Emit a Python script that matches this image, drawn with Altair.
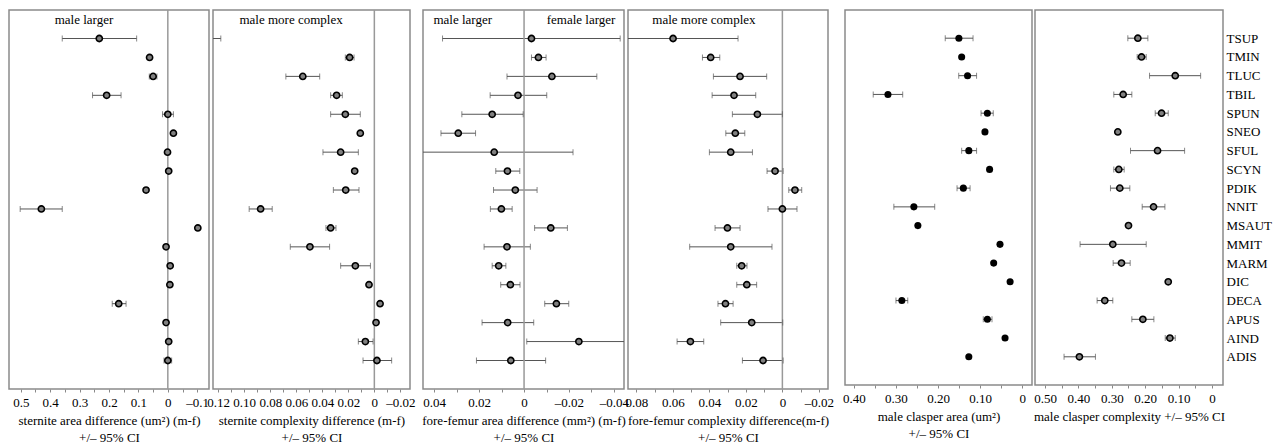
import altair as alt
import pandas as pd

species = ["TSUP", "TMIN", "TLUC", "TBIL", "SPUN", "SNEO", "SFUL", "SCYN", "PDIK",
           "NNIT", "MSAUT", "MMIT", "MARM", "DIC", "DECA", "APUS", "AIND", "ADIS"]

# Panel 1: sternite area difference
p1_est = [0.233, 0.062, 0.050, 0.208, 0.000, -0.019, 0.001, -0.003, 0.074,
          0.430, -0.102, 0.006, -0.008, -0.007, 0.167, 0.006, -0.003, 0.000]
p1_lo = [0.359, 0.066, 0.063, 0.256, 0.018, None, None, None, None,
         0.502, None, None, None, None, 0.189, None, None, 0.013]
p1_hi = [0.106, 0.058, 0.037, 0.159, -0.019, None, None, None, None,
         0.359, None, None, None, None, 0.142, None, None, -0.013]

# Panel 2: sternite complexity difference
p2_est = [0.135, 0.019, 0.055, 0.029, 0.0223, 0.0108, 0.0259, 0.0151, 0.022,
          0.0874, 0.0336, 0.0495, 0.0146, 0.0041, -0.0044, -0.0013, 0.0069, -0.002]
p2_lo = [0.150, 0.0223, 0.068, 0.0336, 0.0336, None, 0.0395, None, 0.0315,
         0.0962, 0.0372, 0.0646, 0.0259, None, None, None, 0.0123, 0.0087]
p2_hi = [0.118, 0.0156, 0.042, 0.0246, 0.0108, None, 0.0123, None, 0.0118,
         0.0785, 0.0295, 0.0344, 0.003, None, None, None, 0.001, -0.0133]

# Panel 3: fore-femur area difference
p3_est = [-0.0033, -0.0064, -0.0124, 0.0027, 0.0142, 0.0293, 0.0133, 0.0074, 0.0039,
          0.0101, -0.0119, 0.0076, 0.0113, 0.0061, -0.0144, 0.0073, -0.0244, 0.0059]
p3_lo = [0.0363, -0.0033, 0.0076, 0.0151, 0.0277, 0.0370, 0.0480, 0.0126, 0.0136,
         0.0150, -0.0047, 0.0178, 0.0142, 0.0104, -0.0092, 0.0187, -0.0012, 0.0212]
p3_hi = [-0.0428, -0.0098, -0.0324, -0.0101, 0.0004, 0.0216, -0.0218, 0.0019, -0.0058,
         0.0053, -0.0193, -0.0028, 0.0081, 0.0018, -0.0199, -0.0043, -0.0480, -0.0096]

# Panel 4: fore-femur complexity difference
p4_est = [0.0599, 0.0393, 0.0232, 0.0265, 0.0137, 0.0258, 0.0283, 0.0040, -0.0069,
          0.0000, 0.0301, 0.0283, 0.0223, 0.0195, 0.0312, 0.0168, 0.0504, 0.0106]
p4_lo = [0.0900, 0.0438, 0.0378, 0.0385, 0.0274, 0.0310, 0.0400, 0.0084, -0.0035,
         0.0079, 0.0369, 0.0508, 0.0250, 0.0250, 0.0353, 0.0338, 0.0577, 0.0219]
p4_hi = [0.0243, 0.0343, 0.0086, 0.0146, 0.0000, 0.0206, 0.0164, -0.0004, -0.0106,
         -0.0080, 0.0232, 0.0057, 0.0194, 0.0141, 0.0270, -0.0002, 0.0431, -0.0004]

# Panel 5: male clasper area
p5_est = [0.1506, 0.144, 0.130, 0.319, 0.083, 0.0887, 0.127, 0.0777, 0.140,
          0.2575, 0.248, 0.053, 0.068, 0.029, 0.286, 0.083, 0.041, 0.127]
p5_lo = [0.183, None, 0.151, 0.354, 0.098, None, 0.144, None, 0.155,
         0.305, None, None, None, None, 0.300, 0.0927, None, None]
p5_hi = [0.117, None, 0.1086, 0.284, 0.069, None, 0.1086, None, 0.124,
         0.208, None, None, None, None, 0.272, 0.072, None, None]

# Panel 6: male clasper complexity
p6_est = [0.222, 0.211, 0.110, 0.266, 0.151, 0.282, 0.163, 0.279, 0.276,
          0.175, 0.250, 0.297, 0.271, 0.131, 0.321, 0.207, 0.126, 0.397]
p6_lo = [0.252, 0.224, 0.187, 0.294, 0.170, None, 0.244, 0.294, 0.304,
         0.209, None, 0.395, 0.296, None, 0.344, 0.240, 0.140, 0.443]
p6_hi = [0.192, 0.197, 0.034, 0.240, 0.131, None, 0.082, 0.263, 0.246,
         0.141, None, 0.197, 0.245, None, 0.297, 0.174, 0.110, 0.349]

FONT = "Liberation Serif"
GRAY = "#555555"
FRAME = "#8a8a8a"
FONT_EXPR = {"expr": "'Liberation Serif'"}
SIZE_EXPR = {"expr": "13"}


def panel(est, lo, hi, domain, ticks, fmt, title, width, height, annots,
          zero_line=True, solid=False, yaxis=False):
    df = pd.DataFrame({"species": species, "est": est, "lo": lo, "hi": hi})
    xscale = alt.Scale(domain=domain, reverse=True, nice=False, zero=False)
    labelexpr = (
        "datum.value == 0 ? '0' : (indexof([" + ",".join(str(t) for t in ticks[::2]) +
        "], datum.value) >= 0 ? replace(format(datum.value, '" + fmt + "'), /[-\u2212]/, '\u2013') : '')"
    )
    xaxis = alt.Axis(values=ticks, labelExpr=labelexpr, title=title, labelOverlap=False,
                     labelSeparation=0, labelBound=False, labelFlush=False,
                     grid=False, domain=False, tickColor="#888888", tickSize=3,
                     labelFont=FONT_EXPR, labelFontSize=SIZE_EXPR, labelColor="black",
                     titleFont=FONT_EXPR, titleFontSize=SIZE_EXPR, titleFontWeight="normal",
                     titleColor="black", titlePadding=5, labelPadding=4,
                     titleLineHeight=17)
    if yaxis:
        yax = alt.Axis(orient="right", title=None, ticks=False, domain=False,
                       labelFont=FONT, labelFontSize=13, labelColor="black",
                       labelPadding=3)
    else:
        yax = None
    top = 28.5 * height / 379.0
    yscale = alt.Scale(type="point", padding=0, range=[top, height - top])
    yenc = alt.Y("species:N", sort=species, scale=yscale, axis=yax)
    base = alt.Chart(df)
    bars = base.transform_filter("datum.lo != null").mark_rule(
        color=GRAY, strokeWidth=1, clip=True).encode(
        x=alt.X("lo:Q", scale=xscale, axis=xaxis, title=title), x2="hi:Q", y=yenc)
    cap1 = base.transform_filter("datum.lo != null").mark_tick(
        color=GRAY, thickness=1, size=6, clip=True).encode(
        x=alt.X("lo:Q", scale=xscale, axis=xaxis, title=title), y=yenc)
    cap2 = base.transform_filter("datum.lo != null").mark_tick(
        color=GRAY, thickness=1, size=6, clip=True).encode(
        x=alt.X("hi:Q", scale=xscale, axis=xaxis, title=title), y=yenc)
    if solid:
        pts = base.mark_circle(color="black", size=50, opacity=1, clip=True).encode(
            x=alt.X("est:Q", scale=xscale, axis=xaxis, title=title), y=yenc)
    else:
        pts = base.mark_point(filled=True, fill="#808080", stroke="black", strokeWidth=1.6,
                              size=38, opacity=1, clip=True).encode(
            x=alt.X("est:Q", scale=xscale, axis=xaxis, title=title), y=yenc)
    layers = [bars]
    if zero_line:
        zdf = pd.DataFrame({"z": [0.0]})
        layers.append(alt.Chart(zdf).mark_rule(color="#999999", strokeWidth=1.5).encode(
            x=alt.X("z:Q", scale=xscale, axis=xaxis, title=title)))
    layers += [cap1, cap2, pts]
    if annots:
        adf = pd.DataFrame({"ax": [a[0] for a in annots], "txt": [a[1] for a in annots]})
        layers.append(alt.Chart(adf).mark_text(font=FONT, fontSize=13, color="black",
                                               baseline="middle", align="center").encode(
            x=alt.X("ax:Q", scale=xscale, axis=xaxis, title=title), y=alt.value(10),
            text="txt:N"))
    return alt.layer(*layers).properties(
        width=width, height=height,
        view=alt.ViewBackground(stroke=FRAME, strokeWidth=1.5))


def spacer(w):
    sdf = pd.DataFrame({"a": [0.0]})
    return alt.Chart(sdf).mark_point(opacity=0).encode(
        x=alt.X("a:Q", axis=None), y=alt.Y("a:Q", axis=None)
    ).properties(width=w, height=379,
                 view=alt.ViewBackground(stroke="transparent", strokeWidth=0))


c1 = panel(p1_est, p1_lo, p1_hi, [-0.14, 0.54],
           [0.5, 0.45, 0.4, 0.35, 0.3, 0.25, 0.2, 0.15, 0.1, 0.05, 0, -0.05, -0.1],
           ".1f", ["sternite area difference (um\u00b2) (m-f)", "+/\u2013 95% CI"], 200, 379,
           [(0.285, "male larger")])
c2 = panel(p2_est, p2_lo, p2_hi, [-0.0274, 0.124],
           [0.12, 0.11, 0.1, 0.09, 0.08, 0.07, 0.06, 0.05, 0.04, 0.03, 0.02, 0.01, 0, -0.01, -0.02],
           ".2f", ["sternite complexity difference (m-f)", "+/\u2013 95% CI"], 197, 379,
           [(0.064, "male more complex")])
c3 = panel(p3_est, p3_lo, p3_hi, [-0.0445, 0.045],
           [0.04, 0.03, 0.02, 0.01, 0, -0.01, -0.02, -0.03, -0.04],
           ".2f", ["fore-femur area difference (mm\u00b2) (m-f)", "+/\u2013 95% CI"], 201, 379,
           [(0.0273, "male larger"), (-0.0254, "female larger")])
c4 = panel(p4_est, p4_lo, p4_hi, [-0.025, 0.0846],
           [0.08, 0.07, 0.06, 0.05, 0.04, 0.03, 0.02, 0.01, 0, -0.01, -0.02],
           ".2f", ["fore-femur complexity difference(m-f)", "+/\u2013 95% CI"], 200, 379,
           [(0.043, "male more complex")])
c5 = panel(p5_est, p5_lo, p5_hi, [-0.023, 0.421],
           [0.4, 0.35, 0.3, 0.25, 0.2, 0.15, 0.1, 0.05, 0],
           ".2f", ["male clasper area (um\u00b2)", "+/\u2013 95% CI"], 187, 375,
           [], zero_line=False, solid=True)
c6 = panel(p6_est, p6_lo, p6_hi, [-0.033, 0.53],
           [0.5, 0.45, 0.4, 0.35, 0.3, 0.25, 0.2, 0.15, 0.1, 0.05, 0],
           ".2f", "male clasper complexity +/\u2013 95% CI", 188, 375,
           [], zero_line=False, yaxis=True)

chart = alt.hconcat(
    c1, spacer(4), c2, spacer(13), c3, spacer(4), c4, spacer(17), c5, spacer(3), c6,
    spacing=0, bounds="flush"
).properties(padding=0, background="white").configure(
    font=FONT
).configure_axis(
    labelOverlap=False, labelFont=FONT, labelFontSize=13, labelColor="black",
    titleFont=FONT, titleFontSize=13, titleFontWeight="normal", titleColor="black"
)

chart.save("out.html", embed_options={"renderer": "svg", "actions": False})
